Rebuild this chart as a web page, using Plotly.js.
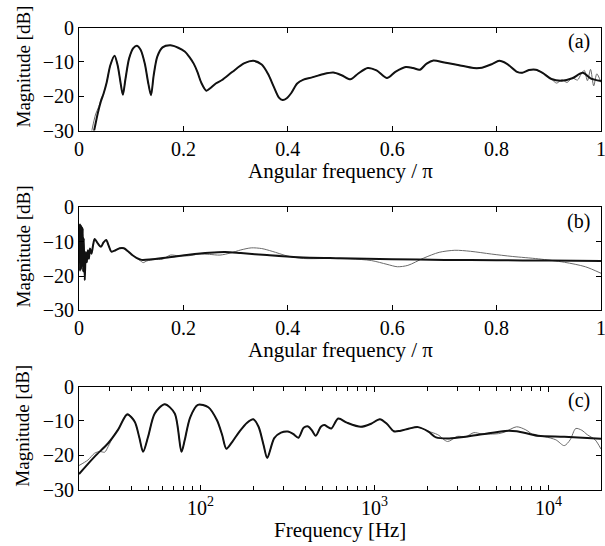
<!DOCTYPE html>
<html>
<head>
<meta charset="utf-8">
<script src="https://cdn.plot.ly/plotly-3.0.1.min.js"></script>
<style>html,body{margin:0;padding:0;background:#fff;}#chart{width:605px;height:546px;}</style>
</head>
<body>
<div id="chart"></div>
<script>
// ---------- Panel (a): angular frequency / pi ----------
const aBlackX = [0.020,0.029,0.036,0.042,0.047,0.053,0.060,0.068,0.074,0.079,0.084,0.089,0.096,0.104,0.111,0.118,0.126,0.133,0.138,0.143,0.150,0.160,0.175,0.190,0.2025,0.212,0.220,0.227,0.234,0.244,0.252,0.262,0.274,0.294,0.317,0.334,0.350,0.362,0.373,0.383,0.390,0.398,0.407,0.418,0.430,0.445,0.467,0.487,0.503,0.520,0.535,0.553,0.570,0.590,0.606,0.626,0.640,0.653,0.666,0.679,0.700,0.726,0.756,0.772,0.792,0.805,0.819,0.839,0.849,0.862,0.875,0.888,0.905,0.925,0.945,0.965,0.980,1.000];
const aBlackY = [-36,-30,-25,-21.5,-19.3,-16,-11,-8.2,-11,-15.5,-19.6,-15,-9,-6,-5.3,-6.5,-10.5,-16.5,-19.7,-14,-8.5,-5.8,-5.2,-5.9,-7,-8.7,-10.6,-13,-16,-18.4,-17.6,-16.3,-15.3,-12.9,-10.4,-9.7,-10.8,-13.5,-17.2,-20.4,-21.1,-20.6,-19,-16.3,-15.2,-14.6,-13.6,-13.1,-13.9,-15.1,-13.4,-11.8,-12.5,-14.7,-12.9,-11.5,-11.8,-12.3,-10.5,-9.6,-10.2,-10.9,-11.8,-11.7,-10.6,-9.7,-10.5,-12.9,-13.2,-12.4,-12.3,-13.2,-15,-15.5,-14.8,-13.2,-14.8,-15.6];
const aGrayX = [0.020,0.026,0.032,0.038,0.043,0.047,0.053,0.060,0.068,0.074,0.079,0.084,0.089,0.096,0.104,0.111,0.118,0.126,0.133,0.138,0.143,0.150,0.160,0.175,0.190,0.2025,0.212,0.220,0.227,0.234,0.244,0.252,0.262,0.274,0.294,0.317,0.334,0.350,0.362,0.373,0.383,0.390,0.398,0.407,0.418,0.430,0.445,0.467,0.487,0.503,0.520,0.535,0.553,0.570,0.590,0.606,0.626,0.640,0.653,0.666,0.679,0.700,0.726,0.756,0.772,0.792,0.805,0.819,0.839,0.849,0.862,0.875,0.888,0.905,0.915,0.925,0.935,0.945,0.955,0.962,0.968,0.974,0.980,0.986,0.992,1.000];
const aGrayY = [-34,-29,-25.2,-23,-20.5,-19.3,-16,-11,-8.2,-11,-15.5,-19.6,-15,-9,-6,-5.3,-6.5,-10.5,-16.5,-19.7,-14,-8.5,-5.8,-5.2,-5.9,-7,-8.7,-10.6,-13,-16,-18.4,-17.6,-16.3,-15.3,-12.9,-10.4,-9.7,-10.8,-13.5,-17.2,-20.4,-21.1,-20.6,-19,-16.3,-15.2,-14.6,-13.6,-13.1,-13.9,-15.1,-13.4,-11.8,-12.5,-14.7,-12.9,-11.5,-11.8,-12.3,-10.5,-9.6,-10.2,-10.9,-11.8,-11.7,-10.6,-9.7,-10.5,-12.9,-13.2,-12.4,-12.3,-13.2,-15,-16.2,-15.2,-16,-14.7,-15.3,-13.5,-12.5,-15.5,-12.2,-17,-13.5,-16];

// ---------- Panel (b): angular frequency / pi ----------
const bBlackX = [0,0.001,0.002,0.003,0.004,0.005,0.006,0.007,0.008,0.009,0.011,0.013,0.015,0.017,0.019,0.021,0.024,0.027,0.030,0.036,0.042,0.047,0.052,0.057,0.062,0.070,0.078,0.086,0.094,0.102,0.110,0.120,0.14,0.17,0.21,0.25,0.28,0.31,0.36,0.42,0.5,0.6,0.7,0.8,0.9,1];
const bBlackY = [-8,-5,-18.5,-5,-18,-5.5,-17,-6,-18.7,-9,-21.2,-13,-16,-12.5,-15,-12,-13.5,-11,-9.2,-10.5,-11.5,-10.2,-9.5,-11.2,-12.9,-12.5,-11.9,-11.9,-12.8,-13.9,-14.7,-15.3,-15.1,-14.6,-13.8,-13.2,-13,-13.3,-13.9,-14.5,-14.8,-15.1,-15.3,-15.4,-15.5,-15.6];
const bGrayX = [0,0.001,0.002,0.003,0.004,0.005,0.006,0.007,0.008,0.009,0.011,0.013,0.015,0.017,0.019,0.021,0.024,0.027,0.030,0.036,0.042,0.047,0.052,0.057,0.062,0.070,0.078,0.086,0.094,0.102,0.110,0.118,0.123,0.13,0.145,0.16,0.175,0.19,0.21,0.23,0.25,0.27,0.29,0.31,0.33,0.35,0.37,0.40,0.43,0.47,0.52,0.56,0.59,0.61,0.63,0.66,0.69,0.72,0.75,0.79,0.83,0.88,0.93,0.97,1.0];
const bGrayY = [-8,-5,-18.5,-5,-18,-5.5,-17,-6,-18.7,-9,-21.2,-13,-16,-12.5,-15,-12,-13.5,-11,-9.2,-10.5,-11.5,-10.2,-9.5,-11.2,-12.9,-12.5,-11.9,-11.9,-12.8,-13.9,-14.7,-15.6,-16.1,-15.6,-15.2,-15.1,-13.9,-14.1,-14.1,-13.6,-13.7,-13.9,-13.3,-12.4,-11.8,-12,-12.8,-14.2,-14.9,-14.9,-15,-15.5,-16.6,-17.3,-16.9,-14.8,-13.1,-12.5,-12.8,-13.6,-14.3,-15,-16,-17.3,-19.2];

// ---------- Panel (c): frequency in Hz ----------
const cBlackF = [20,24.6,29.4,33.5,37.9,41.8,44.5,46.7,49.9,54.5,62.2,71,77.6,81.1,87,96.4,110.7,124.2,133,140.6,152.4,167.1,185,200.9,215.3,230,241.5,264.9,289.7,317.7,340,364.8,390.8,415,437,459.2,490.9,514,540,563.6,618,693.4,833.7,955,1071.5,1175,1288,1396,1581,1775,2037,2254,2685,3337,4144,5620,6550,8690,12300,20000];
const cBlackY = [-25.5,-20.4,-16.5,-12.6,-8.1,-10.2,-15,-19,-14.6,-7.8,-5.1,-7.8,-19,-15.5,-9,-5.3,-6,-9.8,-14.1,-18.1,-16,-13.1,-10.5,-9.5,-11.7,-17,-20.8,-15,-13.4,-13.1,-13.8,-14.9,-12,-11.6,-12.8,-14.3,-11.7,-11.2,-11.8,-12.2,-9.3,-10.5,-11.7,-10.8,-9.5,-10.8,-13,-12.9,-12.2,-11.8,-13.1,-14.8,-15.1,-14.6,-13.9,-12.9,-13,-14.3,-14.6,-15.2];
const cGrayF = [20,22.5,24.6,26.3,28.1,29.4,31.4,33.5,37.9,41.8,44.5,46.7,49.9,54.5,62.2,71,77.6,81.1,87,96.4,110.7,124.2,133,140.6,152.4,167.1,185,200.9,215.3,230,241.5,264.9,289.7,317.7,340,364.8,390.8,415,437,459.2,490.9,514,540,563.6,618,693.4,833.7,955,1071.5,1175,1288,1396,1581,1775,2037,2306,2626,2993,3337,3720,4144,5150,5620,6550,7400,8310,9500,11000,12300,13300,14320,15500,16670,18500,20000];
const cGrayY = [-23,-21.4,-19.4,-18.9,-19.1,-17.5,-14.6,-12.4,-7.8,-10.2,-15,-19,-14.6,-7.8,-5.1,-7.8,-19,-15.5,-9,-5.3,-6,-9.8,-14.1,-18.1,-16,-13.1,-10.5,-9.5,-11.7,-17,-20.8,-15,-13.4,-13.1,-13.8,-14.9,-12,-11.6,-12.8,-14.3,-11.7,-11.2,-11.8,-12.2,-9.3,-10.5,-11.7,-10.8,-9.5,-10.8,-13,-12.9,-12.2,-11.8,-13,-14,-16,-14.5,-14.6,-13.4,-13.8,-13.7,-13.2,-11.7,-12.6,-14.3,-14.6,-15.5,-17.2,-15.5,-12.2,-12.7,-14,-15.5,-18.2];

// ---------- Tick labels & text ----------
const linTickVals = [0,0.2,0.4,0.6,0.8,1];
const linTickText = ['0','0.2','0.4','0.6','0.8','1'];
const magTickVals = [-30,-20,-10,0];
const logTickVals = [100,1000,10000];
const logTickText = ['10<sup>2</sup>','10<sup>3</sup>','10<sup>4</sup>'];
const panelLabels = ['(a)','(b)','(c)'];
const xTitles = ['Angular frequency / \u03c0','Angular frequency / \u03c0','Frequency [Hz]'];
const yTitle = 'Magnitude [dB]';

const minorLogTicks = [];
[10,100,1000,10000].forEach(d => { for (let m = 2; m <= 9; m++) { const v = m*d; if (v >= 20 && v <= 20000) minorLogTicks.push(v); } });

const FONT = 'Liberation Serif, Times New Roman, serif';
const grayLine = {color:'#6a6a6a', width:1, shape:'spline', smoothing:0.8};
const blackLine = {color:'#111111', width:2, shape:'spline', smoothing:0.8};

const traces = [
  {x:aGrayX, y:aGrayY, xaxis:'x', yaxis:'y', mode:'lines', line:grayLine, hoverinfo:'skip'},
  {x:aBlackX, y:aBlackY, xaxis:'x', yaxis:'y', mode:'lines', line:blackLine, hoverinfo:'skip'},
  {x:bGrayX, y:bGrayY, xaxis:'x2', yaxis:'y2', mode:'lines', line:grayLine, hoverinfo:'skip'},
  {x:bBlackX, y:bBlackY, xaxis:'x2', yaxis:'y2', mode:'lines', line:blackLine, hoverinfo:'skip'},
  {x:cGrayF, y:cGrayY, xaxis:'x3', yaxis:'y3', mode:'lines', line:grayLine, hoverinfo:'skip'},
  {x:cBlackF, y:cBlackY, xaxis:'x3', yaxis:'y3', mode:'lines', line:blackLine, hoverinfo:'skip'}
];

const H = 546;
const panels = [{top:27.5,bottom:130.5},{top:207.4,bottom:310.3},{top:386.7,bottom:489.5}];
const dom = p => [1 - p.bottom/H, 1 - p.top/H];

const axCommon = {
  showline:true, linecolor:'black', linewidth:1, mirror:'ticks',
  ticks:'inside', ticklen:5, tickwidth:1, tickcolor:'black',
  showgrid:false, zeroline:false, fixedrange:true, ticklabeloverflow:'allow',
  tickfont:{family:FONT, size:20, color:'black'}
};
const yCommon = Object.assign({}, axCommon, {range:[-30,0], tickmode:'array', tickvals:magTickVals});
const xLin = Object.assign({}, axCommon, {range:[0,1], tickmode:'array', tickvals:linTickVals, ticktext:linTickText});

const layout = {
  width:605, height:546,
  margin:{l:79, r:4, t:0, b:0},
  paper_bgcolor:'white', plot_bgcolor:'white', showlegend:false,
  font:{family:FONT, size:20, color:'black'},
  xaxis: Object.assign({}, xLin, {anchor:'y', domain:[0,1]}),
  yaxis: Object.assign({}, yCommon, {anchor:'x', domain:dom(panels[0])}),
  xaxis2: Object.assign({}, xLin, {anchor:'y2', domain:[0,1]}),
  yaxis2: Object.assign({}, yCommon, {anchor:'x2', domain:dom(panels[1])}),
  xaxis3: Object.assign({}, axCommon, {anchor:'y3', domain:[0,1], type:'log',
    range:[Math.log10(20), Math.log10(20000)], tickmode:'array', tickvals:logTickVals, ticktext:logTickText,
    minor:{tickmode:'array', tickvals:minorLogTicks, ticks:'inside', ticklen:4, tickcolor:'black', tickwidth:1, showgrid:false}}),
  yaxis3: Object.assign({}, yCommon, {anchor:'x3', domain:dom(panels[2])}),
  annotations: []
};

const axSuffix = ['', '2', '3'];
panels.forEach((p, i) => {
  // panel label
  layout.annotations.push({text:panelLabels[i], xref:'x'+axSuffix[i]+' domain', yref:'y'+axSuffix[i]+' domain',
    x:1, y:1, xanchor:'right', yanchor:'middle', xshift:-9, yshift:-14, showarrow:false,
    font:{family:FONT, size:20, color:'black'}});
  // x title
  layout.annotations.push({text:xTitles[i], xref:'paper', yref:'paper', x:0.5, y:1 - (p.bottom + 40)/H,
    xanchor:'center', yanchor:'middle', showarrow:false, font:{family:FONT, size:21, color:'black'}});
  // y title
  layout.annotations.push({text:yTitle, xref:'paper', yref:'paper', x:(23 - 79)/522, y:1 - (p.top + 39)/H,
    xanchor:'center', yanchor:'middle', textangle:-90, showarrow:false, font:{family:FONT, size:19, color:'black'}});
});

Plotly.newPlot('chart', traces, layout, {staticPlot:true, displayModeBar:false});
</script>
</body>
</html>
